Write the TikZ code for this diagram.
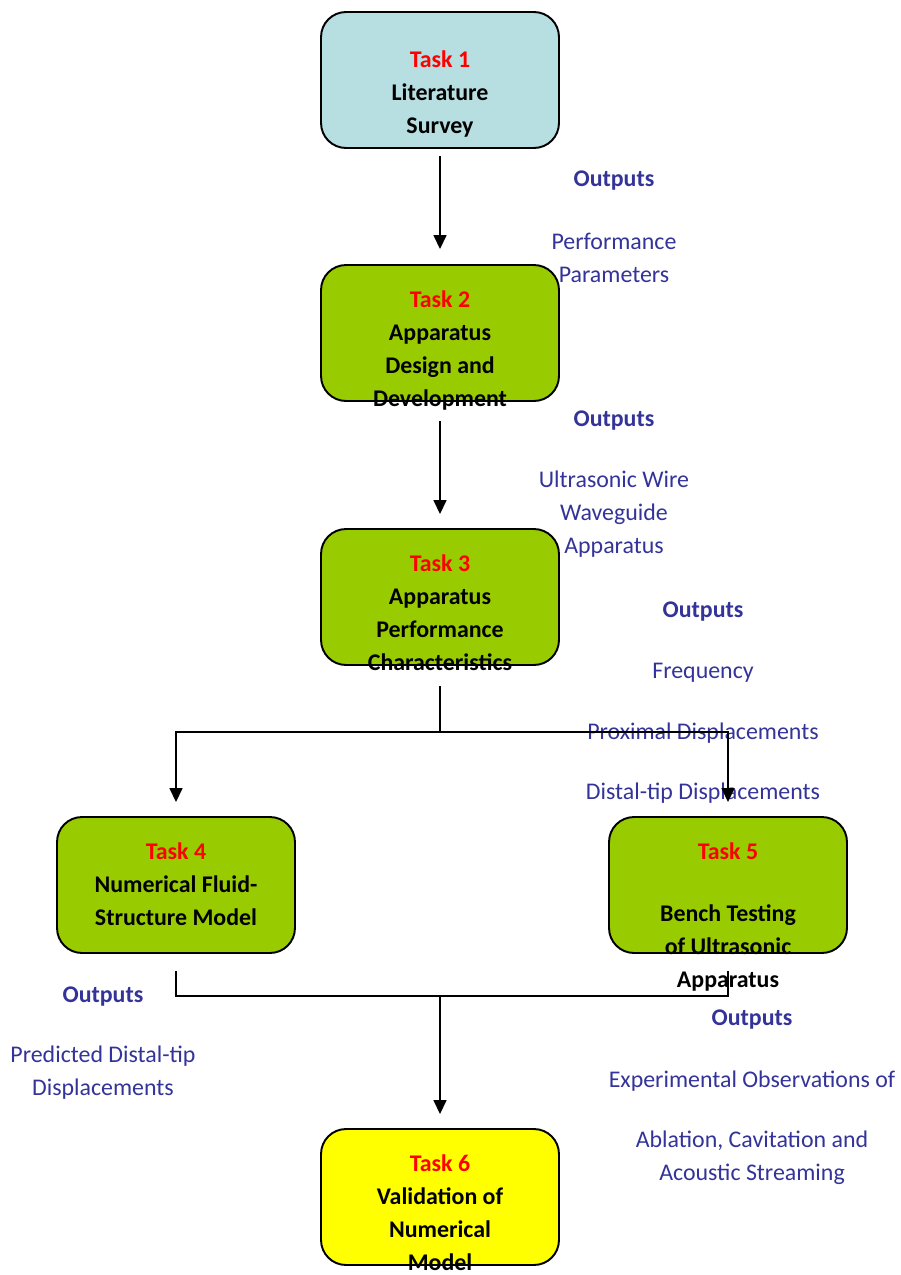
\documentclass[tikz,border=0pt]{standalone}
\usepackage{fontspec}
\setmainfont{Carlito}
\usepackage{xcolor}
\usepackage{tikz}
\usetikzlibrary{arrows.meta}
\definecolor{taskblue}{HTML}{B7DEE1}
\definecolor{taskgreen}{HTML}{99CC00}
\definecolor{taskyellow}{HTML}{FFFF00}
\definecolor{outblue}{HTML}{333399}
\newcommand{\diagfont}{\fontsize{13.6}{18.8}\selectfont}
\tikzstyle{process} = [rectangle, rounded corners=0.5cm, minimum width=4.76cm, minimum height=2.72cm, draw=black, line width=1.1pt]
\tikzstyle{boxtext} = [anchor=north, align=center, inner sep=0pt, font=\diagfont\bfseries]
\tikzstyle{outtext} = [align=center, inner sep=0pt, text=outblue, font=\diagfont]
\tikzstyle{outhead} = [outtext, font=\diagfont\bfseries]
\tikzstyle{link} = [line width=0.85pt]
\tikzstyle{arrow} = [line width=0.85pt,-{Triangle[length=0.28cm,width=0.26cm]}]

\begin{document}
\begin{tikzpicture}[x=0.02cm, y=-0.02cm]
                        \useasboundingbox (0,0) rectangle (901,1275);

                        \node (1) [process, fill=taskblue] at (440,80) {};
                        \node (2) [process, fill=taskgreen] at (440,333) {};
                        \node (3) [process, fill=taskgreen] at (440,597) {};
                        \node (4) [process, fill=taskgreen] at (176,885) {};
                        \node (5) [process, fill=taskgreen] at (728,885) {};
                        \node (6) [process, fill=taskyellow] at (440,1197) {};

                        \node (1t) [boxtext] at ([yshift=-0.78cm]1.north) {\textcolor{red}{Task 1}\\Literature\\Survey};
                        \node (2t) [boxtext] at ([yshift=-0.52cm]2.north) {\textcolor{red}{Task 2}\\Apparatus\\Design and\\Development};
                        \node (3t) [boxtext] at ([yshift=-0.52cm]3.north) {\textcolor{red}{Task 3}\\Apparatus\\Performance\\Characteristics};
                        \node (4t) [boxtext] at ([yshift=-0.52cm]4.north) {\textcolor{red}{Task 4}\\Numerical Fluid-\\Structure Model};
                        \node (5t) [boxtext] at ([yshift=-0.52cm]5.north) {\textcolor{red}{Task 5}\\[0.58cm]Bench Testing\\of Ultrasonic\\Apparatus};
                        \node (6t) [boxtext] at ([yshift=-0.52cm]6.north) {\textcolor{red}{Task 6}\\Validation of\\Numerical\\Model};

                        \node (o1) [outhead] at (614,181) {Outputs};
                        \node (r1) [outtext] at (614,258) {Performance\\Parameters};
                        \node (o2) [outhead] at (614,421) {Outputs};
                        \node (r2) [outtext] at (614,514) {Ultrasonic Wire\\Waveguide\\Apparatus};
                        \node (o3) [outhead] at (703,612) {Outputs};
                        \node (r3) [outtext] at (703,673) {Frequency};
                        \node (r4) [outtext] at (703,733) {Proximal Displacements};
                        \node (r5) [outtext] at (703,793) {Distal-tip Displacements};
                        \node (o4) [outhead] at (103,997) {Outputs};
                        \node (r6) [outtext] at (103,1073) {Predicted Distal-tip\\Displacements};
                        \node (o5) [outhead] at (752,1020) {Outputs};
                        \node (r7) [outtext] at (752,1081) {Experimental Observations of};
                        \node (r8) [outtext] at (752,1158) {Ablation, Cavitation and\\Acoustic Streaming};

                        \coordinate (j3) at (440,732);
                        \coordinate (j6) at (440,996);

                        \draw [arrow, shorten <=0.14cm, shorten >=0.3cm] (1) -- (2);
                        \draw [arrow, shorten <=0.38cm, shorten >=0.28cm] (2) -- (3);
                        \draw [link, shorten <=0.4cm] (3) -- (j3);
                        \draw [arrow, shorten >=0.28cm] (j3) -| (4);
                        \draw [arrow, shorten >=0.28cm] (j3) -| (5);
                        \draw [link, shorten <=0.34cm] (4) |- (j6);
                        \draw [link, shorten <=0.34cm] (5) |- (j6);
                        \draw [arrow, shorten >=0.28cm] (j6) -- (6);
                    \end{tikzpicture}
\end{document}
